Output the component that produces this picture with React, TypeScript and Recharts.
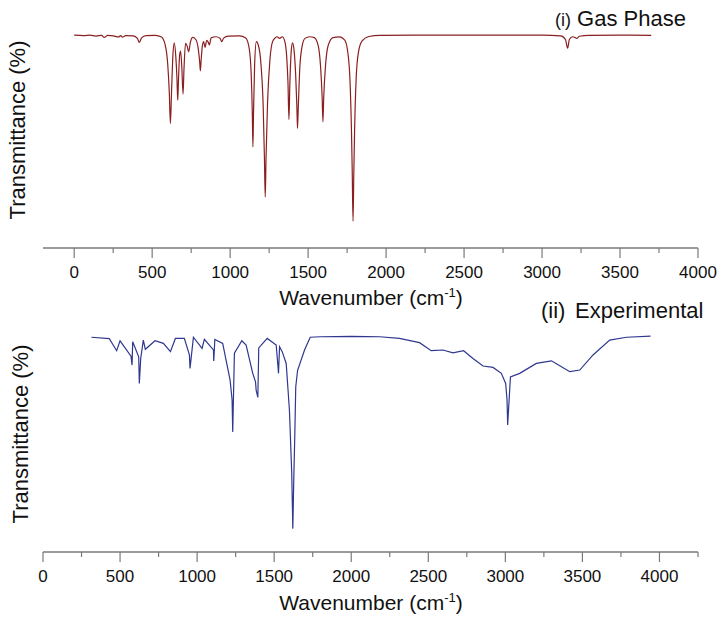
import { LineChart, Line, XAxis, YAxis } from "recharts";

// [wavenumber (cm-1), transmittance (%)]
const gasPhase: [number, number][] = [
  [0, 90.6], [60, 90.4], [100, 90.6], [140, 90.2], [175, 90.5], [193, 89.6],
  [215, 90.5], [250, 90.3], [285, 89.8], [298, 90.4], [310, 89.7], [330, 90.4],
  [380, 90.3], [405, 89.2], [418, 87.5], [432, 89.4], [460, 90.4], [520, 90.5],
  [560, 89.8], [585, 86], [600, 78], [610, 66], [617, 53], [624, 66], [633, 82],
  [642, 87.3], [652, 81], [659, 72], [664, 62.9], [669, 72], [676, 82], [682, 83.8],
  [690, 77], [698, 65.5], [704, 76], [714, 87.1], [724, 86], [734, 83.5], [745, 87.5],
  [760, 89.6], [782, 88.5], [797, 84], [805, 79], [809, 75.4], [814, 80], [822, 86],
  [830, 87.8], [839, 85.4], [850, 88.4], [860, 87.5], [867, 86.4], [878, 89.4],
  [910, 89.9], [935, 89.3], [946, 87.8], [958, 89.3], [990, 90.2], [1060, 90.3],
  [1100, 89.4], [1122, 85], [1135, 74], [1142, 58], [1146, 43], [1150, 58], [1157, 78],
  [1168, 87.8], [1180, 86.5], [1198, 78], [1212, 60], [1220, 38], [1225, 21.7],
  [1230, 38], [1240, 62], [1255, 80], [1272, 87.8], [1290, 89.5], [1300, 89.9],
  [1317, 89.2], [1335, 89.9], [1350, 88], [1362, 82], [1371, 70], [1377, 54.7],
  [1383, 70], [1392, 84], [1400, 87.3], [1410, 84], [1420, 74], [1428, 60],
  [1432, 50.9], [1437, 60], [1447, 77], [1462, 86], [1480, 89.2], [1510, 89.9],
  [1540, 89.5], [1565, 86], [1580, 77], [1590, 64], [1595, 53.7], [1600, 64],
  [1612, 78], [1630, 86.5], [1660, 89.5], [1700, 89.8], [1735, 88.5], [1755, 83],
  [1768, 72], [1778, 50], [1783, 32], [1788, 11.4], [1793, 32], [1798, 50],
  [1808, 72], [1822, 83], [1845, 88], [1890, 90], [1960, 90.5], [2200, 90.6],
  [2600, 90.6], [3000, 90.6], [3120, 90.3], [3150, 88.7], [3164, 85], [3175, 88.7],
  [3195, 89.9], [3208, 89.7], [3222, 89.2], [3240, 90.1], [3300, 90.5], [3500, 90.6],
  [3700, 90.5],
];

const experimental: [number, number][] = [
  [314, 91.0], [430, 90.4], [478, 85.3], [500, 89.5], [571, 83], [578, 79.2],
  [582, 89.1], [621, 82.7], [625, 71.4], [634, 82], [651, 89.8], [664, 85.9],
  [727, 89.5], [781, 88.4], [827, 84.9], [859, 90.5], [917, 90.5], [950, 83.5],
  [954, 77.8], [976, 91], [1032, 86.3], [1047, 90.1], [1106, 85.6], [1108, 80.9],
  [1115, 90.1], [1166, 88.4], [1214, 72.8], [1227, 64.4], [1231, 50.9], [1242, 84.2],
  [1290, 89.5], [1318, 87.7], [1361, 75.7], [1379, 72.1], [1383, 68.6], [1394, 65.5],
  [1400, 86.5], [1455, 90.5], [1513, 87.7], [1524, 79.2], [1528, 75.7], [1535, 87],
  [1552, 84.9], [1578, 79.9], [1599, 60.1], [1614, 33.3], [1621, 9.9], [1627, 30.4],
  [1634, 50], [1640, 70], [1652, 77], [1697, 85.6], [1734, 91], [1800, 91.2],
  [1900, 91.3], [2000, 91.4], [2100, 91.3], [2185, 91.2], [2313, 90.5], [2443, 88.7],
  [2519, 85.3], [2595, 85.6], [2660, 84.4], [2729, 85.3], [2790, 82], [2855, 78.8],
  [2920, 78.2], [2974, 75.7], [3002, 71.4], [3011, 64.4], [3015, 53.8], [3033, 74.2],
  [3093, 75.7], [3201, 79.9], [3299, 81], [3364, 78.5], [3418, 76.4], [3483, 77.1],
  [3569, 83.5], [3677, 89.8], [3786, 91], [3942, 91.5],
];

const gasTicks = [
  0, 250, 500, 750, 1000, 1250, 1500, 1750, 2000, 2250, 2500, 2750, 3000, 3250,
  3500, 3750, 4000,
];
const expTicks = [
  0, 250, 500, 750, 1000, 1250, 1500, 1750, 2000, 2250, 2500, 2750, 3000, 3250,
  3500, 3750, 4000, 4250,
];

const axisColor = "#7a7a7a";
const textColor = "#111";
const font = "'Liberation Sans', Arial, sans-serif";

function WaveTick({ x, y, payload }: any) {
  const major = payload.value % 500 === 0;
  return (
    <g>
      <line
        x1={x}
        x2={x}
        y1={y}
        y2={y + (major ? 10 : 5)}
        stroke={axisColor}
        strokeWidth={1.2}
      />
      {major && (
        <text
          x={x}
          y={y + 30}
          textAnchor="middle"
          fontSize={17}
          fill={textColor}
          fontFamily={font}
        >
          {payload.value}
        </text>
      )}
    </g>
  );
}

function Spectrum({
  data,
  domain,
  ticks,
  color,
  curve,
  height,
  top,
  bottom,
}: {
  data: [number, number][];
  domain: [number, number];
  ticks: number[];
  color: string;
  curve: "linear" | "monotone";
  height: number;
  top: number;
  bottom: number;
}) {
  const rows = data.map(([wn, t]) => ({ wn, t }));
  return (
    <LineChart
      width={724}
      height={height}
      data={rows}
      margin={{ top, right: 26, bottom, left: 43 }}
    >
      <XAxis
        type="number"
        dataKey="wn"
        domain={domain}
        ticks={ticks}
        interval={0}
        allowDataOverflow
        tickSize={0}
        tickMargin={0}
        tickLine={false}
        tick={<WaveTick />}
        axisLine={{ stroke: axisColor, strokeWidth: 1.5 }}
        height={40}
      />
      <YAxis
        type="number"
        domain={[0, 100]}
        width={0}
        tick={false}
        tickLine={false}
        axisLine={{ stroke: axisColor, strokeWidth: 1.5 }}
      />
      <Line
        type={curve}
        dataKey="t"
        stroke={color}
        strokeWidth={1.2}
        dot={false}
        isAnimationActive={false}
      />
    </LineChart>
  );
}

function AxisTitle({ y }: { y: number }) {
  return (
    <text x={371} y={y} textAnchor="middle" fontSize={21} fill={textColor}>
      Wavenumber (cm
      <tspan dy={-8} fontSize={13}>
        -1
      </tspan>
      <tspan dy={8}>)</tspan>
    </text>
  );
}

export default function App() {
  return (
    <div
      style={{
        position: "absolute",
        left: 0,
        top: 0,
        width: 724,
        height: 635,
        background: "#fff",
        fontFamily: font,
      }}
    >
      <div style={{ position: "absolute", left: 0, top: 0 }}>
        <Spectrum
          data={gasPhase}
          domain={[-200, 4000]}
          ticks={gasTicks}
          color="#8b1f1f"
          curve="monotone"
          height={320}
          top={13}
          bottom={32}
        />
      </div>
      <div style={{ position: "absolute", left: 0, top: 300 }}>
        <Spectrum
          data={experimental}
          domain={[0, 4250]}
          ticks={expTicks}
          color="#2f378f"
          curve="linear"
          height={335}
          top={16}
          bottom={43}
        />
      </div>
      <svg
        width={724}
        height={635}
        style={{ position: "absolute", left: 0, top: 0, pointerEvents: "none" }}
        fontFamily={font}
      >
        <text x={555} y={26} fill={textColor}>
          <tspan fontSize={18}>(i)</tspan>
          <tspan fontSize={22}> Gas Phase</tspan>
        </text>
        <text x={541} y={318} fill={textColor} fontSize={22}>
          (ii)
        </text>
        <text x={575} y={318} fill={textColor} fontSize={22}>
          Experimental
        </text>
        <AxisTitle y={305} />
        <AxisTitle y={610} />
        <text
          transform="translate(25,130) rotate(-90)"
          textAnchor="middle"
          fontSize={22}
          fill={textColor}
        >
          Transmittance (%)
        </text>
        <text
          transform="translate(28,434) rotate(-90)"
          textAnchor="middle"
          fontSize={22}
          fill={textColor}
        >
          Transmittance (%)
        </text>
      </svg>
    </div>
  );
}
